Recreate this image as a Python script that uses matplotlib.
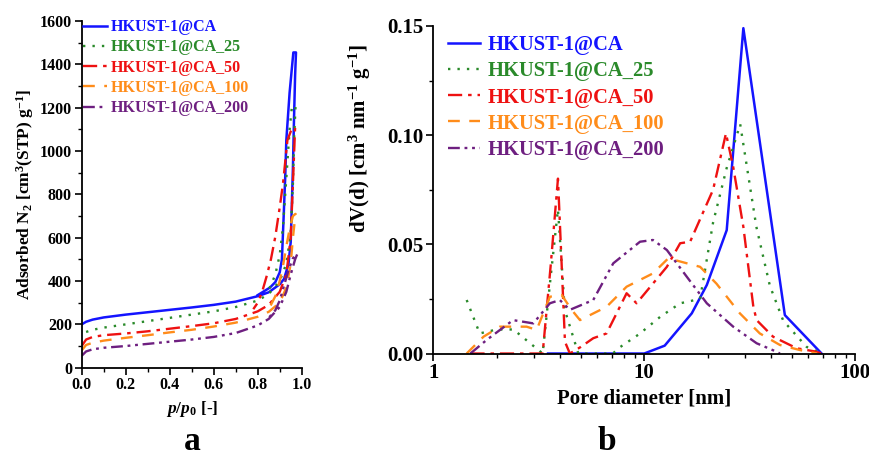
import numpy as np
import matplotlib
matplotlib.use("Agg")
import matplotlib.pyplot as plt
from matplotlib.ticker import MultipleLocator, LogLocator, NullFormatter, FixedLocator, FixedFormatter

plt.rcParams['font.family'] = ['Liberation Serif', 'DejaVu Serif']
plt.rcParams['font.weight'] = 'bold'
plt.rcParams['mathtext.fontset'] = 'custom'
plt.rcParams['mathtext.rm'] = 'Liberation Serif:bold'
plt.rcParams['mathtext.it'] = 'Liberation Serif:italic:bold'
plt.rcParams['mathtext.bf'] = 'Liberation Serif:bold'
plt.rcParams['mathtext.default'] = 'regular'

labels = ['HKUST-1@CA', 'HKUST-1@CA_25', 'HKUST-1@CA_50', 'HKUST-1@CA_100', 'HKUST-1@CA_200']
colors = ['#1414ff', '#2a8a2a', '#ee1111', '#ff8c1a', '#6e1f80']
styles = ['-', (0, (1, 3)), (0, (6, 2.5, 1.5, 2.5)), (0, (5, 4)), (0, (5, 2, 1.2, 2, 1.2, 2))]

# ---- isotherms (adsorption then desorption branch) ----
iso_ca_x = [0.0, 0.02, 0.05, 0.1, 0.2, 0.3, 0.4, 0.5, 0.6, 0.7, 0.8, 0.85, 0.9, 0.92, 0.94, 0.95, 0.955, 0.96, 0.965,
            0.97, 0.974, 0.962, 0.945, 0.93, 0.925, 0.918, 0.91, 0.9, 0.88, 0.856, 0.8]
iso_ca_y = [200, 212, 222, 232, 245, 256, 267, 278, 290, 305, 330, 348, 385, 410, 480, 580, 750, 920, 1150,
            1350, 1455, 1455, 1270, 1050, 880, 700, 500, 440, 395, 370, 335]
iso_25_x = [0.02, 0.05, 0.1, 0.2, 0.3, 0.4, 0.5, 0.6, 0.7, 0.8, 0.85, 0.9, 0.93, 0.95, 0.96, 0.965, 0.972,
            0.955, 0.945, 0.935, 0.925, 0.915, 0.9, 0.88, 0.86, 0.84]
iso_25_y = [165, 175, 185, 200, 215, 230, 245, 260, 280, 310, 340, 400, 480, 620, 850, 1050, 1210,
            1200, 1100, 950, 800, 650, 520, 430, 380, 345]
iso_50_x = [0.0, 0.02, 0.05, 0.1, 0.2, 0.3, 0.4, 0.5, 0.6, 0.7, 0.8, 0.85, 0.9, 0.93, 0.95, 0.96, 0.97,
            0.95, 0.935, 0.925, 0.915, 0.9, 0.88, 0.86, 0.84, 0.82, 0.8, 0.78]
iso_50_y = [100, 130, 142, 150, 158, 168, 180, 192, 205, 225, 260, 290, 350, 430, 600, 850, 1110,
            1090, 1050, 950, 850, 740, 605, 500, 420, 350, 300, 270]
iso_100_x = [0.0, 0.02, 0.05, 0.1, 0.2, 0.3, 0.4, 0.5, 0.6, 0.7, 0.8, 0.85, 0.9, 0.93, 0.95, 0.96, 0.972,
             0.96, 0.945, 0.93, 0.915, 0.9, 0.88, 0.86, 0.84]
iso_100_y = [80, 105, 115, 125, 138, 150, 163, 175, 190, 208, 235, 258, 300, 370, 480, 600, 710,
             700, 640, 560, 470, 400, 330, 290, 262]
iso_200_x = [0.0, 0.02, 0.05, 0.1, 0.2, 0.3, 0.4, 0.5, 0.6, 0.7, 0.8, 0.85, 0.9, 0.93, 0.95, 0.97, 0.98,
             0.96, 0.94, 0.92, 0.9, 0.88, 0.85]
iso_200_y = [55, 75, 85, 92, 100, 110, 120, 130, 142, 160, 195, 225, 280, 350, 430, 500, 525,
             505, 450, 380, 310, 265, 230]

# ---- pore size distributions ----
psd_ca_d = [3.5, 5, 7, 10, 12.5, 16.8, 19.8, 24.6, 29.5, 46.4, 69.3]
psd_ca_v = [0, 0, 0, 0, 0.0036, 0.0184, 0.0314, 0.0565, 0.149, 0.0176, 0.0]
psd_25_d = [1.44, 1.66, 2.0, 2.4, 2.87, 3.3, 3.6, 3.9, 4.2, 4.87, 7.1, 7.7, 9.5, 11.9, 14.8, 18.4, 21.2, 24.6, 28.5,
            34.0, 39.4, 45.6, 58.9, 69.3]
psd_25_v = [0.0245, 0.0092, 0.011, 0.011, 0.0048, 0.0, 0.035, 0.066, 0.02, 0.0, 0.0, 0.003, 0.009, 0.0168, 0.023,
            0.025, 0.06, 0.085, 0.105, 0.058, 0.031, 0.015, 0.003, 0.0]
psd_50_d = [1.5, 2.0, 3.0, 3.3, 3.6, 3.9, 4.21, 4.44, 5.0, 5.73, 6.63, 8.25, 9.2, 12.8, 14.8, 16.5, 21.2, 24.4, 26.4,
            29.5, 32.9, 34.1, 40.8, 52.8, 64, 69.3]
psd_50_v = [0, 0, 0, 0, 0.04, 0.0801, 0.0054, 0.0, 0.003, 0.007, 0.0092, 0.0276, 0.023, 0.0397, 0.0505, 0.0512,
            0.075, 0.1008, 0.0855, 0.058, 0.0214, 0.0153, 0.0077, 0.0024, 0.001, 0.0]
psd_100_d = [1.44, 1.73, 2.07, 2.77, 3.09, 3.57, 4.06, 4.53, 4.96, 6.63, 8.25, 11.0, 13.0, 18.4, 22.0, 28.4, 35.3,
             44.0, 54.7, 66.0]
psd_100_v = [0, 0.0077, 0.0123, 0.0123, 0.0108, 0.026, 0.0268, 0.02, 0.0153, 0.0214, 0.0306, 0.0367, 0.0436,
             0.0397, 0.032, 0.0184, 0.0092, 0.0039, 0.0016, 0.0]
psd_200_d = [1.5, 1.79, 2.39, 2.98, 3.57, 3.98, 4.44, 5.73, 7.13, 9.55, 11.0, 12.8, 15.9, 19.8, 26.4, 34.1, 40.8, 44.0]
psd_200_v = [0, 0.0062, 0.0153, 0.0138, 0.023, 0.0245, 0.02, 0.0245, 0.0413, 0.0512, 0.052, 0.0474, 0.0352, 0.023,
             0.0123, 0.0047, 0.0015, 0.0]

iso_x = [iso_ca_x, iso_25_x, iso_50_x, iso_100_x, iso_200_x]
iso_y = [iso_ca_y, iso_25_y, iso_50_y, iso_100_y, iso_200_y]
psd_d = [psd_ca_d, psd_25_d, psd_50_d, psd_100_d, psd_200_d]
psd_v = [psd_ca_v, psd_25_v, psd_50_v, psd_100_v, psd_200_v]

fig = plt.figure(figsize=(8.7, 4.59), dpi=100)

def style_axes(ax, fs):
    for s in ['top', 'right']:
        ax.spines[s].set_visible(False)
    for s in ['left', 'bottom']:
        ax.spines[s].set_linewidth(1.3)
    ax.tick_params(which='major', direction='out', length=5, width=1.2, labelsize=fs, pad=2)
    ax.tick_params(which='minor', direction='out', length=3, width=1.0)
    for t in ax.get_xticklabels() + ax.get_yticklabels():
        t.set_fontweight('bold')

# ---- panel a ----
ax1 = fig.add_axes([0.0939, 0.1989, 0.2529, 0.7553])
for x, y, c, ls, lab in zip(iso_x, iso_y, colors, styles, labels):
    ax1.plot(x, y, color=c, linestyle=ls, lw=1.8 if ls == '-' else 1.7, label=lab)
ax1.set_xlim(0, 1.0)
ax1.set_ylim(0, 1600)
ax1.xaxis.set_major_locator(MultipleLocator(0.2))
ax1.xaxis.set_minor_locator(MultipleLocator(0.1))
ax1.yaxis.set_major_locator(MultipleLocator(200))
ax1.yaxis.set_minor_locator(MultipleLocator(100))
ax1.xaxis.set_major_formatter(plt.FuncFormatter(lambda v, p: f'{v:.1f}'))
style_axes(ax1, 11.5)
ax1.set_xlabel(r'$\mathit{p}$/$\mathit{p_0}$ [-]', fontsize=12.5, fontweight='bold', labelpad=4)
ax1.set_ylabel(r'Adsorbed N$_2$ [cm$^3$(STP) g$^{-1}$]', fontsize=12.5, fontweight='bold', labelpad=3)
leg1 = ax1.legend(loc='upper left', bbox_to_anchor=(-0.025, 1.024), frameon=False, fontsize=11.5,
                  handlelength=1.55, handletextpad=0.2, labelspacing=0.27, borderaxespad=0.0)
for t, c in zip(leg1.get_texts(), colors):
    t.set_color(c)
    t.set_fontweight('bold')

# ---- panel b ----
ax2 = fig.add_axes([0.498, 0.2298, 0.485, 0.7136])
for d, v, c, ls, lab in zip(psd_d, psd_v, colors, styles, labels):
    ax2.plot(d, v, color=c, linestyle=ls, lw=1.8 if ls == '-' else 1.7, label=lab)
ax2.set_xscale('log')
ax2.set_xlim(1, 100)
ax2.set_ylim(0, 0.15)
ax2.xaxis.set_major_locator(FixedLocator([1, 10, 100]))
ax2.xaxis.set_major_formatter(FixedFormatter(['1', '10', '100']))
ax2.xaxis.set_minor_locator(LogLocator(base=10, subs=np.arange(2, 10), numticks=10))
ax2.xaxis.set_minor_formatter(NullFormatter())
ax2.yaxis.set_major_locator(MultipleLocator(0.05))
ax2.yaxis.set_minor_locator(MultipleLocator(0.025))
ax2.yaxis.set_major_formatter(plt.FuncFormatter(lambda v, p: f'{v:.2f}'))
style_axes(ax2, 15)
ax2.set_xlabel('Pore diameter [nm]', fontsize=15, fontweight='bold', labelpad=4)
ax2.set_ylabel(r'dV(d) [cm$^3$ nm$^{-1}$ g$^{-1}$]', fontsize=15, fontweight='bold')
ax2.yaxis.set_label_coords(-0.143, 0.655)
leg2 = ax2.legend(loc='upper left', bbox_to_anchor=(0.016, 0.997), frameon=False, fontsize=14.8,
                  handlelength=1.55, handletextpad=0.35, labelspacing=0.3, borderaxespad=0.0)
for t, c in zip(leg2.get_texts(), colors):
    t.set_color(c)
    t.set_fontweight('bold')

fig.text(192 / 870, 1 - 442 / 459, 'a', fontsize=24, fontweight='bold', ha='center', va='center')
fig.text(607 / 870, 1 - 442 / 459, 'b', fontsize=24, fontweight='bold', ha='center', va='center')

fig.savefig('out.png', dpi=100)
